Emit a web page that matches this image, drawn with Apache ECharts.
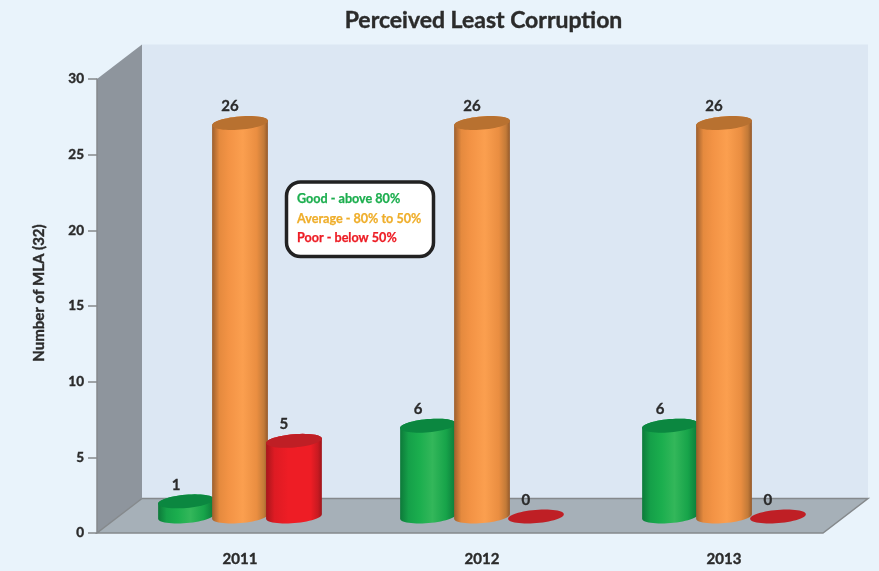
<!DOCTYPE html>
<html><head><meta charset="utf-8">
<style>html,body{margin:0;padding:0;background:#e9f3fb}#c{width:879px;height:571px}</style>
<script src="https://cdn.jsdelivr.net/npm/echarts@6/dist/echarts.min.js"></script>
</head><body><div id="c"></div>
<script>
const categories = ['2011', '2012', '2013'];
const good = [1, 6, 6];
const average = [26, 26, 26];
const poor = [5, 0, 0];
const legendLines = ['Good - above 80%', 'Average - 80% to 50%', 'Poor - below 50%'];
const FONT = 'Lato, "Open Sans", sans-serif';
const INK = '#2b2b2b';
const HEAVY = {textBorderColor: INK, textBorderWidth: 0.4};

const chart = echarts.init(document.getElementById('c'), null, {renderer: 'canvas'});

function ellipsePts(cx, cy, rx, ry, a, from, to, n) {
  const pts = [];
  for (let i = 0; i <= n; i++) {
    const t = from + (to - from) * i / n;
    const u = rx * Math.cos(t), v = ry * Math.sin(t);
    pts.push([cx + u * Math.cos(a) + v * Math.sin(a), cy - u * Math.sin(a) + v * Math.cos(a)]);
  }
  return pts;
}

function cylinder(offsetShare, colors) {
  return function (params, api) {
    const cat = api.value(0), val = api.value(1);
    const base = api.coord([cat, 0]), top = api.coord([cat, val]);
    const band = api.size([1, 0])[0];
    const cx = base[0] + band * offsetShare;
    const lift = 16.5, rx = 28, ry = 6.6, a = 0.085;
    const yb = base[1] - lift, yt = top[1] - lift;
    const body = ellipsePts(cx, yb, rx, ry, a, 0, Math.PI, 28)
      .concat(ellipsePts(cx, yt, rx, ry, a, Math.PI, 2 * Math.PI, 28));
    const children = [];
    if (val > 0) {
      children.push({
        type: 'polygon', shape: {points: body},
        style: {fill: new echarts.graphic.LinearGradient(0, 0, 1, 0, colors.body)}
      });
    }
    children.push({
      type: 'polygon', shape: {points: ellipsePts(cx, yt, rx, ry, a, 0, 2 * Math.PI, 56)},
      style: {fill: colors.cap}
    });
    children.push({
      type: 'text',
      style: Object.assign({
        text: String(val), x: cx - 10, y: yt - 16.5, align: 'center', verticalAlign: 'middle',
        fill: INK, font: 'bold 15px ' + FONT
      }, {stroke: INK, lineWidth: 0.3})
    });
    return {type: 'group', children};
  };
}

function frame(params) {
  const g = params.coordSys;
  const l = g.x - 22, r = g.x + g.width - 22, b = g.y + g.height, t = g.y;
  const dx = 45, dy = 34.5;
  const line = {stroke: '#85898c', lineWidth: 1.5};
  return {type: 'group', children: [
    {type: 'rect', shape: {x: l + dx, y: t - dy, width: r - l, height: b - t},
      style: {fill: '#dce7f3'}},
    {type: 'polygon', shape: {points: [[l, t], [l + dx, t - dy], [l + dx, b - dy], [l, b]]},
      style: {fill: '#8e959d'}},
    {type: 'polygon', shape: {points: [[l, b], [l + dx, b - dy], [r + dx, b - dy], [r, b]]},
      style: {fill: '#a6b0b8'}},
    {type: 'polyline', shape: {points: [[l + dx, b - dy], [r + dx, b - dy], [r, b], [l, b], [l + dx, b - dy]]},
      style: Object.assign({fill: 'none'}, line)}
  ]};
}

const orangeC = {
  cap: '#b87130',
  body: [{offset: 0, color: '#9c5f2e'}, {offset: .13, color: '#e58a3e'}, {offset: .3, color: '#f39345'},
    {offset: .55, color: '#fb9f4f'}, {offset: .8, color: '#ea8e41'}, {offset: .93, color: '#c27a38'}, {offset: 1, color: '#94592a'}]
};
const greenC = {
  cap: '#0b8740',
  body: [{offset: 0, color: '#0d7a3a'}, {offset: .15, color: '#15a049'}, {offset: .35, color: '#1bae4e'},
    {offset: .58, color: '#33b75a'}, {offset: .82, color: '#17a44a'}, {offset: 1, color: '#0b7a3a'}]
};
const redC = {
  cap: '#bf1f25',
  body: [{offset: 0, color: '#a8161c'}, {offset: .15, color: '#dd1b23'}, {offset: .4, color: '#ee1d25'},
    {offset: .8, color: '#ee1d25'}, {offset: .93, color: '#c81a21'}, {offset: 1, color: '#9e151a'}]
};

function bars(name, values, share, colors) {
  return {
    name, type: 'custom', coordinateSystem: 'cartesian2d', clip: false,
    renderItem: cylinder(share, colors),
    encode: {x: 0, y: 1},
    data: values.map((v, i) => [i, v]),
    z: 3
  };
}

const legendX = 297, legendY = [199, 219, 238], legendCol = ['#1cae4e', '#efae2b', '#ed1c24'];

chart.setOption({
  backgroundColor: '#e9f3fb',
  animation: false,
  title: {
    text: 'Perceived Least Corruption', left: 478.5, top: 4, textAlign: 'center',
    textStyle: Object.assign({fontFamily: FONT, fontWeight: 'bold', fontSize: 23, color: INK}, HEAVY)
  },
  grid: {left: 119, top: 79, width: 726, height: 454, containLabel: false},
  xAxis: {
    type: 'category', data: categories,
    axisLine: {show: false}, axisTick: {show: false},
    axisLabel: Object.assign({margin: 19, color: INK, fontFamily: FONT, fontWeight: 'bold', fontSize: 15}, HEAVY)
  },
  yAxis: {
    type: 'value', min: 0, max: 30, interval: 5, offset: 22, z: 5,
    name: 'Number of MLA (32)', nameLocation: 'middle', nameGap: 50, nameRotate: 90,
    nameTextStyle: Object.assign({fontFamily: FONT, fontWeight: 'bold', fontSize: 15, color: INK, padding: [0, 0, 0, 26]}, HEAVY),
    splitLine: {show: false},
    axisLine: {show: true, lineStyle: {color: '#85898c', width: 1.5}},
    axisTick: {show: true, length: 9, lineStyle: {color: '#85898c', width: 1.5}},
    axisLabel: Object.assign({margin: 13, color: INK, fontFamily: FONT, fontWeight: 'bold', fontSize: 13.5}, HEAVY)
  },
  series: [
    {type: 'custom', name: 'frame', renderItem: frame, data: [[0, 0]], encode: {x: 0, y: 1}, z: 1, silent: true},
    bars('Good', good, -0.223, greenC),
    bars('Average', average, 0, orangeC),
    bars('Poor', poor, 0.223, redC)
  ],
  graphic: [
    {type: 'rect', z: 10, shape: {x: 286.5, y: 182, width: 147, height: 74.5, r: 14},
      style: {fill: '#ffffff', stroke: '#222222', lineWidth: 3.5}}
  ].concat(legendLines.map((s, i) => ({
    type: 'text', z: 11, x: legendX, y: legendY[i],
    style: {text: s, fill: legendCol[i], font: 'bold 12.6px ' + FONT, verticalAlign: 'middle', align: 'left', stroke: legendCol[i], lineWidth: 0.25}
  })))
});
</script></body></html>
